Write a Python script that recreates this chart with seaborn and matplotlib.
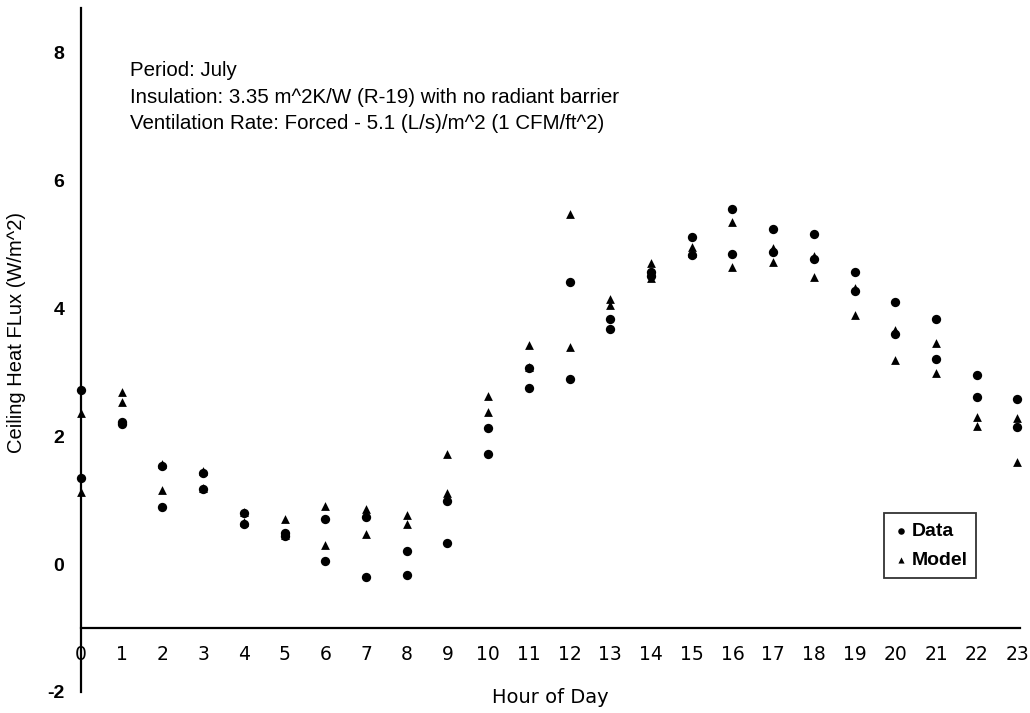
import matplotlib
matplotlib.use("Agg")
import matplotlib.pyplot as plt
import seaborn as sns
import pandas as pd

# hour of day for each pair of readings
hours = [0, 0, 1, 1, 2, 2, 3, 3, 4, 4, 5, 5, 6, 6, 7, 7, 8, 8, 9, 9, 10, 10, 11, 11,
         12, 12, 13, 13, 14, 14, 15, 15, 16, 16, 17, 17, 18, 18, 19, 19, 20, 20,
         21, 21, 22, 22, 23, 23]

# measured ceiling heat flux (W/m^2)
data_flux = [2.72, 1.34, 2.22, 2.19, 1.53, 0.89, 1.42, 1.17, 0.80, 0.63,
             0.48, 0.44, 0.70, 0.05, 0.73, -0.20, 0.20, -0.17, 0.98, 0.33,
             2.13, 1.72, 3.06, 2.75, 4.41, 2.89, 3.83, 3.67, 4.56, 4.50,
             5.11, 4.83, 5.55, 4.84, 5.23, 4.88, 5.16, 4.77, 4.56, 4.27,
             4.09, 3.59, 3.83, 3.20, 2.95, 2.61, 2.58, 2.14]

# model ceiling heat flux (W/m^2)
model_flux = [2.36, 1.13, 2.69, 2.53, 1.56, 1.16, 1.45, 1.19, 0.82, 0.65,
              0.70, 0.46, 0.91, 0.30, 0.86, 0.47, 0.77, 0.63, 1.72, 1.11,
              2.63, 2.38, 3.42, 3.08, 5.47, 3.39, 4.14, 4.05, 4.70, 4.47,
              4.95, 4.86, 5.34, 4.64, 4.94, 4.72, 4.81, 4.48, 4.31, 3.89,
              3.66, 3.19, 3.45, 2.98, 2.30, 2.16, 2.28, 1.59]

x_ticks = list(range(24))
y_ticks = [-2, 0, 2, 4, 6, 8]

notes = ["Period: July",
         "Insulation: 3.35 m^2K/W (R-19) with no radiant barrier",
         "Ventilation Rate: Forced - 5.1 (L/s)/m^2 (1 CFM/ft^2)"]

df_data = pd.DataFrame({"hour": hours, "flux": data_flux})
df_model = pd.DataFrame({"hour": hours, "flux": model_flux})

sns.set_style("white")
plt.rcParams["font.family"] = ["Liberation Sans", "DejaVu Sans"]
plt.rcParams["text.color"] = "black"
plt.rcParams["axes.labelcolor"] = "black"
plt.rcParams["xtick.color"] = "black"
plt.rcParams["ytick.color"] = "black"

fig = plt.figure(figsize=(10.3, 7.13), dpi=100)
ax = fig.add_axes([0.0786, 0.0295, 0.912, 0.9593])

# model first so circles sit on top
sns.scatterplot(data=df_model, x="hour", y="flux", marker="^", color="black",
                s=40, edgecolor="black", linewidth=0, label="Model", ax=ax,
                clip_on=False, zorder=3)
sns.scatterplot(data=df_data, x="hour", y="flux", marker="o", color="black",
                s=45, edgecolor="black", linewidth=0, label="Data", ax=ax,
                clip_on=False, zorder=4)

ax.set_xlim(0, 23.07)
ax.set_ylim(-2, 8.69)

ax.spines["top"].set_visible(False)
ax.spines["right"].set_visible(False)
ax.spines["left"].set_color("black")
ax.spines["left"].set_linewidth(1.6)
ax.spines["bottom"].set_color("black")
ax.spines["bottom"].set_linewidth(1.6)
ax.spines["bottom"].set_position(("data", -1))

ax.set_xticks(x_ticks)
ax.set_xticklabels([str(h) for h in x_ticks], family="DejaVu Sans", fontsize=13.5)
ax.set_yticks(y_ticks)
ax.set_yticklabels([str(v) for v in y_ticks], fontsize=14, fontweight="bold")
ax.tick_params(axis="x", direction="out", length=4, width=1.2, pad=8, color="black")
ax.tick_params(axis="y", direction="out", length=6, width=1.2, pad=6, color="black")

ax.set_xlabel("Hour of Day", family="DejaVu Sans", fontsize=14)
ax.xaxis.set_label_coords(0.5, 0.006)
ax.set_ylabel("Ceiling Heat FLux (W/m^2)", fontsize=14.5)
ax.yaxis.set_label_coords(-0.058, 0.526)

ax.text(1.2, 7.86, "\n".join(notes), fontsize=14.8, va="top", ha="left",
        linespacing=1.5)

handles, labels = ax.get_legend_handles_labels()
leg = ax.legend(handles[::-1], labels[::-1], loc="lower right",
                bbox_to_anchor=(0.953, 0.167), borderaxespad=0, frameon=True,
                fancybox=False, edgecolor="black", fontsize=14,
                handletextpad=0.15, handlelength=0.8, borderpad=0.45,
                labelspacing=0.6, markerscale=0.7)
leg.get_frame().set_linewidth(1.3)
for t in leg.get_texts():
    t.set_fontweight("bold")

fig.savefig("out.png", dpi=100)
